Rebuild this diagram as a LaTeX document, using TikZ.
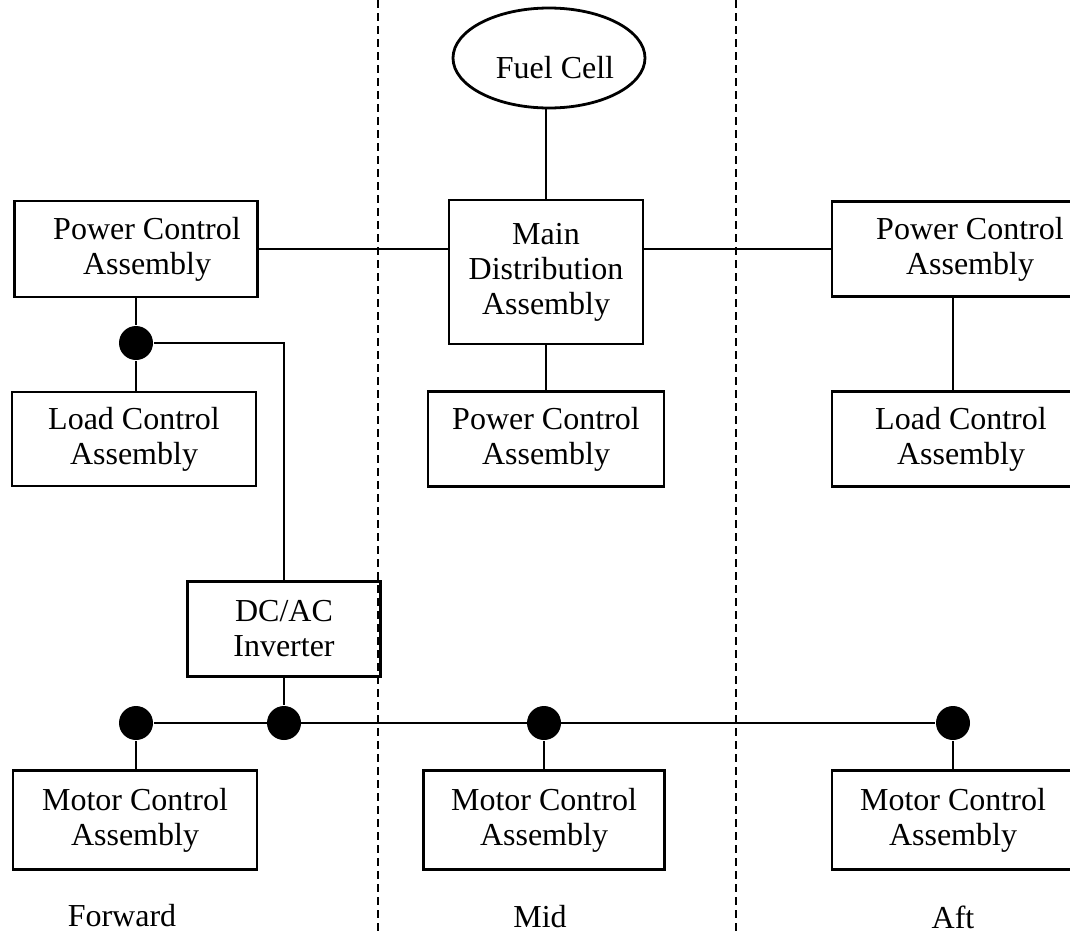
\documentclass[tikz,border=0pt]{standalone}
\usepackage{fontspec}
\setmainfont{Liberation Serif}
\usetikzlibrary{shapes.geometric}
\begin{document}
\begin{tikzpicture}[x=1pt, y=-1pt, line width=2.8pt,
    tag/.style={align=center, inner sep=0pt, font=\fontsize{32}{35}\selectfont},
    unit/.style={draw, rectangle, tag},
    junction/.style={circle, fill, inner sep=0pt, minimum size=34pt},
    divider/.style={line width=2.6pt, dash pattern=on 8pt off 5pt}]
  \useasboundingbox (0,0) rectangle (1070,935);
  % zone dividers
  \draw[divider] (378,0) -- (378,935);
  \draw[divider] (736,0) -- (736,935);
  % units
  \node[draw, ellipse, inner sep=0pt, minimum width=192pt, minimum height=100pt,
    label={[tag, xshift=6pt, yshift=-10pt]center:Fuel Cell}] (fuel) at (549,58) {};
  \node[unit, minimum width=194pt, minimum height=144pt] (mda) at (546,272) {Main\\Distribution\\Assembly};
  \node[unit, minimum width=243pt, minimum height=96pt,
    label={[tag, xshift=11pt]center:Power Control\\Assembly}] (pcaF) at (136,249) {};
  \node[unit, minimum width=242pt, minimum height=95pt,
    label={[tag, xshift=17pt]center:Power Control\\Assembly}] (pcaA) at (953,249) {};
  \node[unit, minimum width=236pt, minimum height=95pt] (pcaM) at (546,439) {Power Control\\Assembly};
  \node[unit, minimum width=244pt, minimum height=94pt] (lcaF) at (134,439) {Load Control\\Assembly};
  \node[unit, minimum width=242pt, minimum height=95pt,
    label={[tag, xshift=8pt]center:Load Control\\Assembly}] (lcaA) at (953,439) {};
  \node[unit, minimum width=193pt, minimum height=95pt] (inv) at (284,629) {DC/AC\\Inverter};
  \node[unit, minimum width=244pt, minimum height=99pt] (mcaF) at (135,820) {Motor Control\\Assembly};
  \node[unit, minimum width=241pt, minimum height=99pt] (mcaM) at (544,820) {Motor Control\\Assembly};
  \node[unit, minimum width=242pt, minimum height=99pt] (mcaA) at (953,820) {Motor Control\\Assembly};
  % junctions
  \node[junction] (jLoad) at (136,343) {};
  \node[junction] (jFwd) at (136,723) {};
  \node[junction] (jInv) at (284,723) {};
  \node[junction] (jMid) at (544,723) {};
  \node[junction] (jAft) at (953,723) {};
  \coordinate (bend) at (284,343);
  % connectors
  \draw (fuel.south -| mda) -- (mda);
  \draw (pcaF.east) -- (pcaF.east -| mda.west);
  \draw (mda.east |- pcaA.west) -- (pcaA.west);
  \draw (mda) -- (pcaM);
  \draw (pcaF.south -| jLoad) -- (jLoad) -- (lcaF.north -| jLoad);
  \draw (jLoad) -- (bend) -- (inv.north);
  \draw (pcaA.south -| jAft) -- (lcaA.north -| jAft);
  \draw (inv.south) -- (jInv);
  \draw (jFwd) -- (jAft);
  \draw (jFwd) -- (mcaF.north -| jFwd);
  \draw (jMid) -- (mcaM.north -| jMid);
  \draw (jAft) -- (mcaA.north -| jAft);
  % zone labels
  \node[tag] (fwd) at (122,916) {Forward};
  \node[tag] (mid) at (540,917) {Mid};
  \node[tag] (aft) at (953,917) {Aft};
\end{tikzpicture}
\end{document}
